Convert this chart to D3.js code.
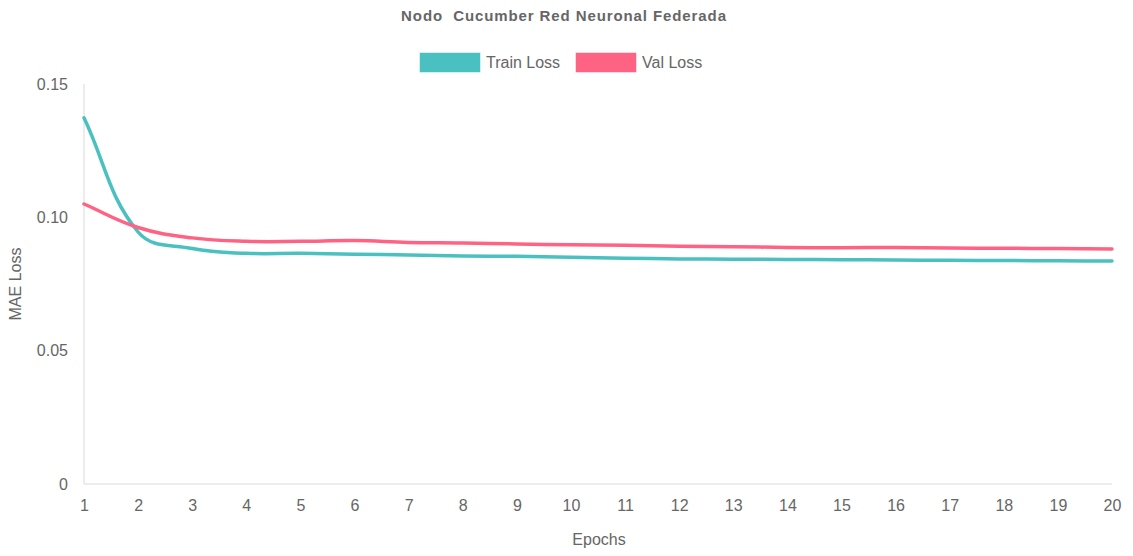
<!DOCTYPE html>
<html>
<head>
<meta charset="utf-8">
<script src="https://cdn.jsdelivr.net/npm/d3@7"></script>
<style>
  html, body { margin: 0; padding: 0; background: #fff; }
  svg text { font-family: "Liberation Sans", Arial, Helvetica, sans-serif; fill: #666; white-space: pre; }
</style>
</head>
<body>
<svg id="chart" width="1133" height="556"></svg>
<script>
// Training history of the federated node (MAE per epoch)
const epochs = [1, 2, 3, 4, 5, 6, 7, 8, 9, 10, 11, 12, 13, 14, 15, 16, 17, 18, 19, 20];
const trainLoss = [0.1373, 0.0945, 0.0883, 0.0865, 0.0865, 0.0862, 0.0859, 0.0855, 0.0854, 0.0850,
                   0.0847, 0.0844, 0.0843, 0.0842, 0.0841, 0.0840, 0.0839, 0.0838, 0.0837, 0.0836];
const valLoss   = [0.1050, 0.0962, 0.0923, 0.0910, 0.0910, 0.0913, 0.0906, 0.0904, 0.0900, 0.0897,
                   0.0895, 0.0892, 0.0890, 0.0887, 0.0886, 0.0887, 0.0885, 0.0884, 0.0883, 0.0881];
const yTicks = [0, 0.05, 0.10, 0.15];
const yTickLabels = ["0", "0.05", "0.10", "0.15"];
const seriesNames = ["Train Loss", "Val Loss"];
const seriesColors = ["rgb(75, 192, 192)", "rgb(255, 99, 132)"];

const chartTitle = "Nodo  Cucumber Red Neuronal Federada";
const xTitle = "Epochs";
const yTitle = "MAE Loss";

const svg = d3.select("#chart");
const area = { left: 84, right: 1112, top: 84, bottom: 484 };

const x = d3.scaleLinear().domain([1, 20]).range([area.left, area.right]);
const y = d3.scaleLinear().domain([0, 0.15]).range([area.bottom, area.top]);

// Cubic spline with tension, control points weighted by segment length
function tensionSpline(context, tension) {
  let pts = [];
  return {
    areaStart() {}, areaEnd() {},
    lineStart() { pts = []; },
    point(px, py) { pts.push([+px, +py]); },
    lineEnd() {
      const n = pts.length;
      if (!n) return;
      const cps = pts.map((p, i) => {
        const prev = pts[Math.max(i - 1, 0)], next = pts[Math.min(i + 1, n - 1)];
        const d01 = Math.hypot(p[0] - prev[0], p[1] - prev[1]);
        const d12 = Math.hypot(next[0] - p[0], next[1] - p[1]);
        let s01 = d01 / (d01 + d12), s12 = d12 / (d01 + d12);
        if (!isFinite(s01)) s01 = 0;
        if (!isFinite(s12)) s12 = 0;
        const fa = tension * s01, fb = tension * s12;
        let cIn = [p[0] - fa * (next[0] - prev[0]), p[1] - fa * (next[1] - prev[1])];
        let cOut = [p[0] + fb * (next[0] - prev[0]), p[1] + fb * (next[1] - prev[1])];
        const clampY = v => Math.max(area.top, Math.min(area.bottom, v));
        cIn[1] = clampY(cIn[1]); cOut[1] = clampY(cOut[1]);
        return { cIn, cOut };
      });
      context.moveTo(pts[0][0], pts[0][1]);
      for (let i = 1; i < n; i++) {
        const a = cps[i - 1].cOut, b = cps[i].cIn;
        context.bezierCurveTo(a[0], a[1], b[0], b[1], pts[i][0], pts[i][1]);
      }
    }
  };
}
const curve = ctx => tensionSpline(ctx, 0.4);

// Title
svg.append("text")
  .attr("x", 564).attr("y", 21)
  .attr("text-anchor", "middle")
  .style("font-size", "15px").style("font-weight", "bold").style("letter-spacing", "0.9px")
  .text(chartTitle);

// Legend
const legendItems = [
  { name: seriesNames[0], color: seriesColors[0], x: 420 },
  { name: seriesNames[1], color: seriesColors[1], x: 576 }
];
legendItems.forEach(it => {
  svg.append("rect")
    .attr("x", it.x).attr("y", 53).attr("width", 60).attr("height", 19)
    .attr("fill", it.color).attr("stroke", it.color).attr("stroke-opacity", 0.5).attr("stroke-width", 1);
  svg.append("text")
    .attr("x", it.x + 66).attr("y", 68)
    .style("font-size", "16px")
    .text(it.name);
});

// Axis lines
svg.append("line")
  .attr("x1", area.left).attr("x2", area.left)
  .attr("y1", area.top).attr("y2", area.bottom)
  .attr("stroke", "#e6e6e6").attr("stroke-width", 1.5);
svg.append("line")
  .attr("x1", area.left).attr("x2", area.right)
  .attr("y1", area.bottom).attr("y2", area.bottom)
  .attr("stroke", "#e6e6e6").attr("stroke-width", 1.5);

// Y axis ticks
const yAxis = d3.axisLeft(y).tickValues(yTicks)
  .tickFormat((d, i) => yTickLabels[i]).tickSize(0).tickPadding(16);
const gy = svg.append("g").attr("transform", `translate(${area.left},0)`).call(yAxis);
gy.select(".domain").remove();
gy.selectAll("text").style("font-size", "16px").attr("fill", "#666");

// X axis ticks
const xAxis = d3.axisBottom(x).tickValues(epochs).tickFormat(d3.format("d"))
  .tickSize(0).tickPadding(16);
const gx = svg.append("g").attr("transform", `translate(0,${area.bottom})`).call(xAxis);
gx.select(".domain").remove();
gx.selectAll("text").style("font-size", "16px").attr("fill", "#666");

// Axis titles
svg.append("text")
  .attr("x", (area.left + area.right) / 2 + 1).attr("y", 545)
  .attr("text-anchor", "middle")
  .style("font-size", "16px")
  .text(xTitle);
svg.append("text")
  .attr("transform", `translate(21,${(area.top + area.bottom) / 2}) rotate(-90)`)
  .attr("text-anchor", "middle")
  .style("font-size", "16px")
  .text(yTitle);

// Lines
const line = d3.line().x((d, i) => x(epochs[i])).y(d => y(d)).curve(curve);
[trainLoss, valLoss].forEach((series, k) => {
  svg.append("path")
    .datum(series)
    .attr("d", line)
    .attr("fill", "none")
    .attr("stroke", seriesColors[k])
    .attr("stroke-width", 3.5)
    .attr("stroke-linejoin", "round")
    .attr("stroke-linecap", "round");
});
</script>
</body>
</html>
